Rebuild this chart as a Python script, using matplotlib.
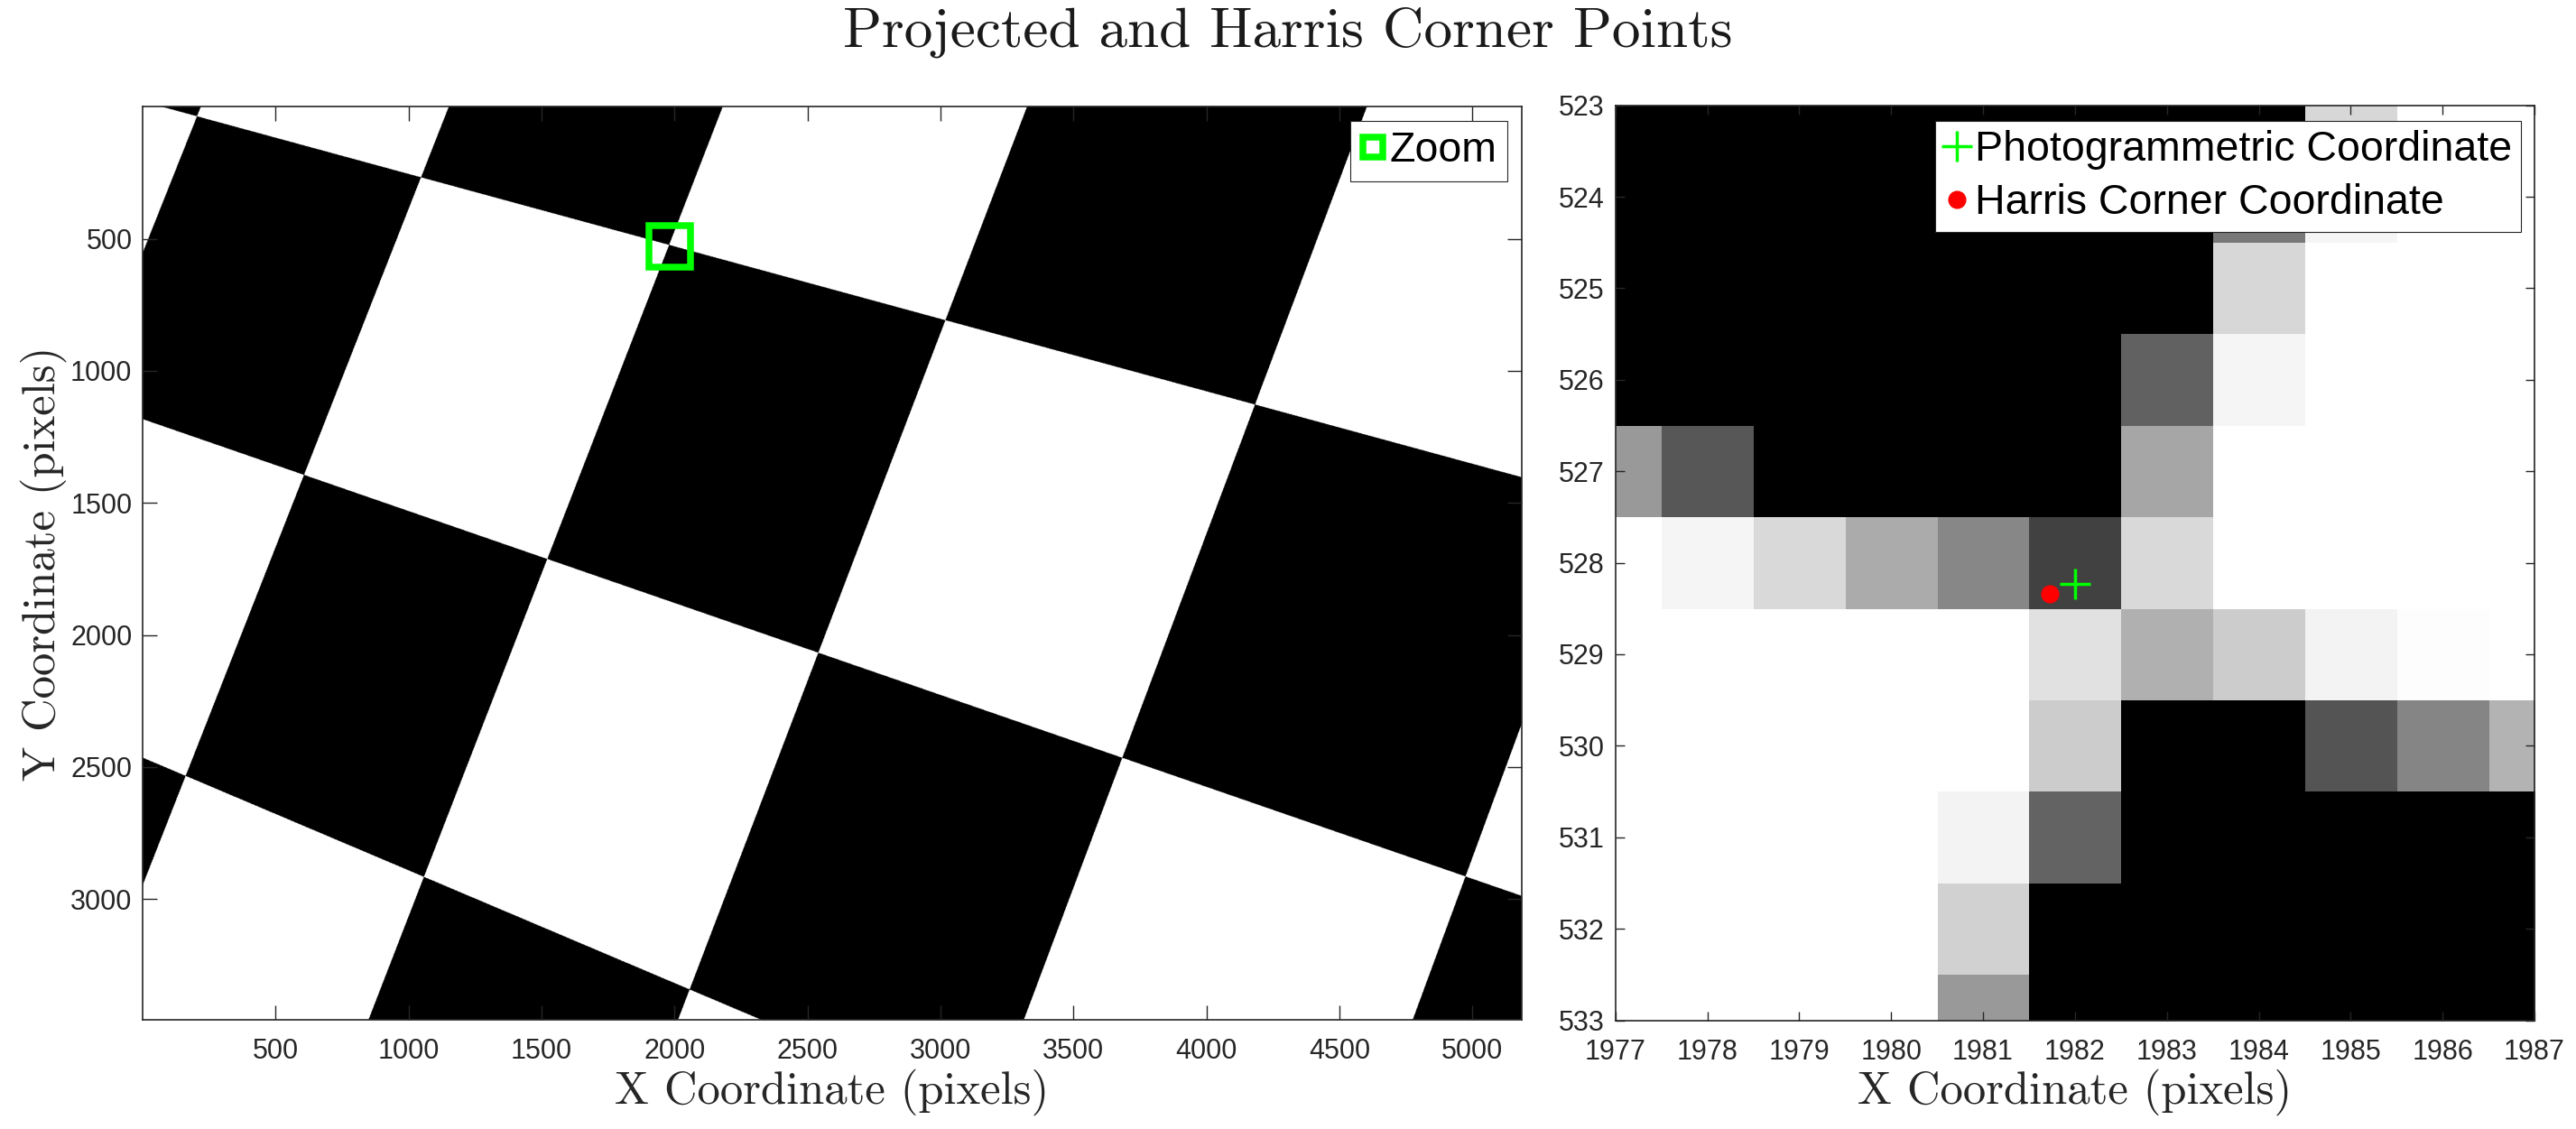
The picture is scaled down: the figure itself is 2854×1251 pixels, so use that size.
"""
Projected checkerboard corners vs Harris corner, with a zoom on one corner
"""
import numpy as np
import matplotlib
matplotlib.use('Agg')
import matplotlib.pyplot as plt

plt.rcParams['font.family'] = ['Liberation Sans', 'DejaVu Sans']

# checkerboard corners: board index -> image pixel
corner_u = [0, 1, 2, 3, 4, 1, 2, 3, 4, 5, 1, 2, 3]
corner_v = [0, 0, 0, 0, 0, 1, 1, 1, 1, 1, 2, 2, 2]
corner_x = [203, 1045, 1982, 3016, 4184, 612, 1522, 2538, 3682, 4973, 160, 1056, 2059]
corner_y = [34, 272, 528, 805, 1126, 1394, 1714, 2065, 2467, 2915, 2533, 2915, 3343]
img_w, img_h = 5184, 3456

# grey levels of the 11x11 pixels round the corner (rows 523..533, cols 1977..1987)
zoom_cols = [1977, 1978, 1979, 1980, 1981, 1982, 1983, 1984, 1985, 1986, 1987]
zoom_rows = [523, 524, 525, 526, 527, 528, 529, 530, 531, 532, 533]
zoom_patch = np.array([
    [0.00, 0.00, 0.00, 0.00, 0.00, 0.00, 0.00, 0.00, 0.84, 1.00, 1.00],
    [0.00, 0.00, 0.00, 0.00, 0.00, 0.00, 0.00, 0.47, 0.96, 1.00, 1.00],
    [0.00, 0.00, 0.00, 0.00, 0.00, 0.00, 0.00, 0.84, 1.00, 1.00, 1.00],
    [0.00, 0.00, 0.00, 0.00, 0.00, 0.00, 0.38, 0.96, 1.00, 1.00, 1.00],
    [0.60, 0.34, 0.00, 0.00, 0.00, 0.00, 0.65, 1.00, 1.00, 1.00, 1.00],
    [1.00, 0.96, 0.85, 0.67, 0.53, 0.26, 0.85, 1.00, 1.00, 1.00, 1.00],
    [1.00, 1.00, 1.00, 1.00, 1.00, 0.88, 0.69, 0.80, 0.95, 0.99, 1.00],
    [1.00, 1.00, 1.00, 1.00, 1.00, 0.80, 0.00, 0.00, 0.33, 0.52, 0.70],
    [1.00, 1.00, 1.00, 1.00, 0.95, 0.39, 0.00, 0.00, 0.00, 0.00, 0.00],
    [1.00, 1.00, 1.00, 1.00, 0.82, 0.00, 0.00, 0.00, 0.00, 0.00, 0.00],
    [1.00, 1.00, 1.00, 1.00, 0.60, 0.00, 0.00, 0.00, 0.00, 0.00, 0.00],
])

photo_x, photo_y = 1982.0, 528.23
harris_x, harris_y = 1981.73, 528.34

left_xticks = [500, 1000, 1500, 2000, 2500, 3000, 3500, 4000, 4500, 5000]
left_yticks = [500, 1000, 1500, 2000, 2500, 3000]

AX_COLOR = '#262626'
GREEN = '#00ff00'


def fit_homography(u, v, x, y):
    # plain DLT, image coords in kilo-pixels to keep it well conditioned
    rows = []
    for ui, vi, xi, yi in zip(u, v, x, y):
        xi, yi = xi / 1000.0, yi / 1000.0
        rows.append([ui, vi, 1, 0, 0, 0, -xi * ui, -xi * vi, -xi])
        rows.append([0, 0, 0, ui, vi, 1, -yi * ui, -yi * vi, -yi])
    _, _, vt = np.linalg.svd(np.array(rows, float))
    return vt[-1].reshape(3, 3)


def checkerboard_image():
    hinv = np.linalg.inv(fit_homography(corner_u, corner_v, corner_x, corner_y))
    xs = np.linspace(1, img_w, img_w // 2) / 1000.0
    ys = np.linspace(1, img_h, img_h // 2) / 1000.0
    X, Y = np.meshgrid(xs, ys)
    den = hinv[2, 0] * X + hinv[2, 1] * Y + hinv[2, 2]
    bu = (hinv[0, 0] * X + hinv[0, 1] * Y + hinv[0, 2]) / den
    bv = (hinv[1, 0] * X + hinv[1, 1] * Y + hinv[1, 2]) / den
    # even squares are black
    return ((np.floor(bu) + np.floor(bv)) % 2).astype(float)


def style_axes(ax, tick_len):
    ax.tick_params(axis='both', which='both', direction='in', top=True, right=True,
                   length=tick_len, width=1.0, colors=AX_COLOR, labelsize=22)
    ax.tick_params(axis='x', pad=14.5)
    ax.tick_params(axis='y', pad=8.5)
    for sp in ax.spines.values():
        sp.set_color(AX_COLOR)
        sp.set_linewidth(1.2)


fig = plt.figure(figsize=(28.54, 12.51), dpi=100)
W, H = 2854.0, 1251.0

# left: full projected image with the zoom box
ax1 = fig.add_axes([158.3 / W, 1 - 1130 / H, 1527.4 / W, 1011.7 / H])
ax1.imshow(checkerboard_image(), cmap='gray', vmin=0, vmax=1, aspect='auto',
           extent=[0.5, img_w + 0.5, img_h + 0.5, 0.5])
ax1.plot(photo_x, photo_y, 's', ms=33.5, mew=5.4, mfc='none', mec=GREEN, label='Zoom')
ax1.set_xlim(0.5, img_w + 0.5)
ax1.set_ylim(img_h + 0.5, 0.5)
ax1.set_xticks(left_xticks)
ax1.set_yticks(left_yticks)
style_axes(ax1, 11.2)
leg1 = ax1.legend(loc='upper right', bbox_to_anchor=(0.9897, 0.9842), borderaxespad=0,
                  fontsize=33.5, numpoints=1, handlelength=0.6, handletextpad=0.1,
                  borderpad=0.24, fancybox=False, framealpha=1, edgecolor=AX_COLOR,
                  markerscale=0.48)
leg1.get_frame().set_linewidth(0.8)
ax1.set_xlabel('X Coordinate (pixels)', fontfamily='cmr10', fontsize=36.5, color=AX_COLOR)
ax1.xaxis.set_label_coords(0.5, -0.0534)
ax1.set_ylabel('Y Coordinate (pixels)', fontfamily='cmr10', fontsize=36.5, color=AX_COLOR)
ax1.yaxis.set_label_coords(-0.0552, 0.5)

# right: pixel level zoom on the corner
ax2 = fig.add_axes([1789.7 / W, 1 - 1130.5 / H, 1018.3 / W, 1013.8 / H])
ax2.imshow(zoom_patch, cmap='gray', vmin=0, vmax=1, aspect='auto', interpolation='nearest',
           extent=[zoom_cols[0] - 0.5, zoom_cols[-1] + 0.5, zoom_rows[-1] + 0.5, zoom_rows[0] - 0.5])
ax2.plot(photo_x, photo_y, '+', color=GREEN, ms=23.8, mew=2.5, label='Photogrammetric Coordinate')
ax2.plot(harris_x, harris_y, 'o', color='#ff0000', ms=13.5, label='Harris Corner Coordinate')
ax2.set_xlim(zoom_cols[0], zoom_cols[-1])
ax2.set_ylim(zoom_rows[-1], zoom_rows[0])
ax2.set_xticks(zoom_cols)
ax2.set_yticks(zoom_rows)
style_axes(ax2, 7.3)
leg2 = ax2.legend(loc='upper right', bbox_to_anchor=(0.9853, 0.9830), borderaxespad=0,
                  fontsize=33.5, numpoints=1, handlelength=0.6, handletextpad=0.12,
                  borderpad=0.22, labelspacing=0.32, fancybox=False, framealpha=1,
                  edgecolor=AX_COLOR)
leg2.get_frame().set_linewidth(0.8)
ax2.set_xlabel('X Coordinate (pixels)', fontfamily='cmr10', fontsize=36.5, color=AX_COLOR)
ax2.xaxis.set_label_coords(0.5, -0.0528)

fig.text(0.5, 1 - 36 / H, 'Projected and Harris Corner Points', fontfamily='cmr10',
         fontsize=45.5, color='#1a1a1a', ha='center', va='center')

fig.savefig('out.png', dpi=100)
